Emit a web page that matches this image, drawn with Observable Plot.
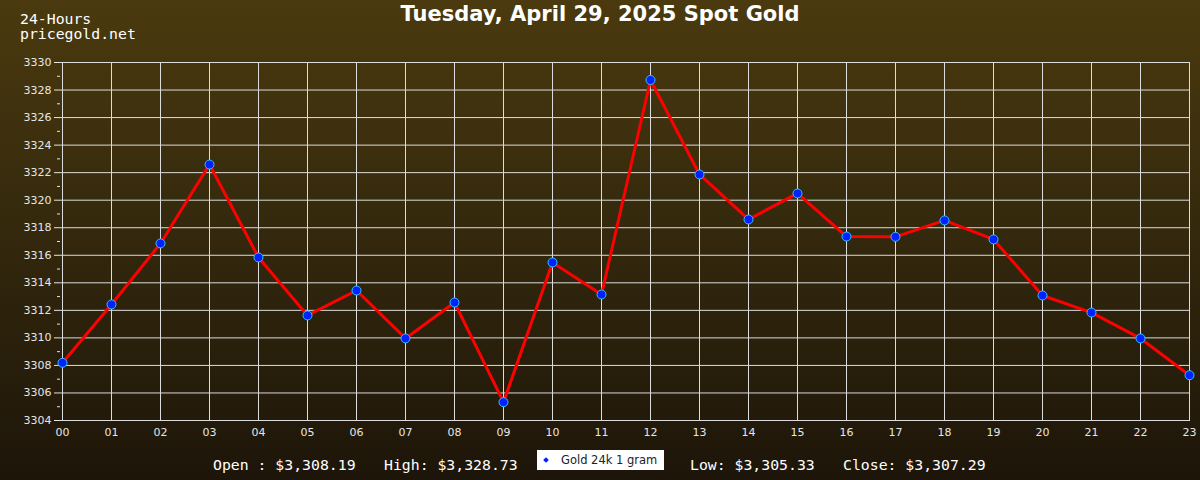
<!DOCTYPE html>
<html>
<head>
<meta charset="utf-8">
<script src="https://cdn.jsdelivr.net/npm/d3@7"></script>
<script src="https://cdn.jsdelivr.net/npm/@observablehq/plot@0.6"></script>
<style>
  html, body { margin: 0; padding: 0; }
  #wrap { position: relative; width: 1200px; height: 480px; overflow: hidden;
    background: linear-gradient(to bottom, #4b3a0f 0%, #33280d 50%, #1d1509 100%); }
  #chart { position: absolute; left: 0; top: 0; }
  .mono { position: absolute; font-family: "DejaVu Sans Mono", monospace; font-size: 14.8px; color: #ffffff; white-space: pre; line-height: 15px; }
  #title { position: absolute; left: 0; width: 1200px; top: 2px; text-align: center; font-family: "DejaVu Sans", sans-serif; font-weight: bold; font-size: 21px; line-height: 24px; color: #ffffff; }
  #legend { position: absolute; left: 537px; top: 450px; width: 127px; height: 20px; background: #ffffff; font-family: "DejaVu Sans", sans-serif; font-size: 11.5px; color: #222; }
  #legend .mk { position: absolute; left: 7px; top: 8px; width: 4px; height: 4px; background: #0022ff; transform: rotate(45deg); }
  #legend .tx { position: absolute; left: 24px; top: 3px; }
</style>
</head>
<body>
<div id="wrap">
  <div id="chart"></div>
  <div id="title">Tuesday, April 29, 2025 Spot Gold</div>
  <div class="mono" style="left:20px; top:11px;">24-Hours</div>
  <div class="mono" style="left:20px; top:26px;">pricegold.net</div>
  <div class="mono" style="left:213px; top:457px;">Open : $3,308.19</div>
  <div class="mono" style="left:384px; top:457px;">High: $3,328.73</div>
  <div id="legend"><div class="mk"></div><div class="tx">Gold 24k 1 gram</div></div>
  <div class="mono" style="left:690px; top:457px;">Low: $3,305.33</div>
  <div class="mono" style="left:843px; top:457px;">Close: $3,307.29</div>
</div>
<script>
const hours = ["00","01","02","03","04","05","06","07","08","09","10","11","12","13","14","15","16","17","18","19","20","21","22","23"];
const prices = [3308.19, 3312.43, 3316.86, 3322.59, 3315.84, 3311.63, 3313.44, 3309.96, 3312.57, 3305.33, 3315.48, 3313.15, 3328.73, 3321.87, 3318.60, 3320.49, 3317.36, 3317.34, 3318.53, 3317.15, 3313.08, 3311.84, 3309.96, 3307.29];
const yMajorTicks = [3304, 3306, 3308, 3310, 3312, 3314, 3316, 3318, 3320, 3322, 3324, 3326, 3328, 3330];
const yMinorTicks = [3305, 3307, 3309, 3311, 3313, 3315, 3317, 3319, 3321, 3323, 3325, 3327, 3329];

const data = hours.map((h, i) => ({hour: h, price: prices[i]}));

const chart = Plot.plot({
  width: 1200,
  height: 480,
  marginTop: 62,
  marginLeft: 60,
  marginRight: 10,
  marginBottom: 60,
  style: {background: "transparent", color: "#e6e6e6", fontFamily: "DejaVu Sans, sans-serif", fontSize: "11px"},
  x: {type: "point", domain: hours, padding: 0},
  y: {domain: [3304, 3330]},
  marks: [
    Plot.gridX(hours, {stroke: "#dcdcdc", strokeOpacity: 1, strokeWidth: 1}),
    Plot.gridY(yMajorTicks, {stroke: "#dcdcdc", strokeOpacity: 1, strokeWidth: 1}),
    Plot.axisY({ticks: yMajorTicks, tickFormat: d => String(d), tickSize: 6, tickPadding: 3, label: null, stroke: "#e6e6e6", fill: "#e6e6e6", fontSize: 11}),
    Plot.axisY({ticks: yMinorTicks, tickSize: 3, tickFormat: () => "", label: null, stroke: "#e6e6e6"}),
    Plot.axisX({ticks: hours, tickSize: 0, tickPadding: 8, label: null, fill: "#e6e6e6", fontSize: 11}),
    Plot.line(data, {x: "hour", y: "price", stroke: "#ff0000", strokeWidth: 3}),
    Plot.dot(data, {x: "hour", y: "price", r: 4.5, fill: "#0022ff", stroke: "#33c0ff", strokeWidth: 1})
  ]
});
document.getElementById("chart").appendChild(chart);
</script>
</body>
</html>
